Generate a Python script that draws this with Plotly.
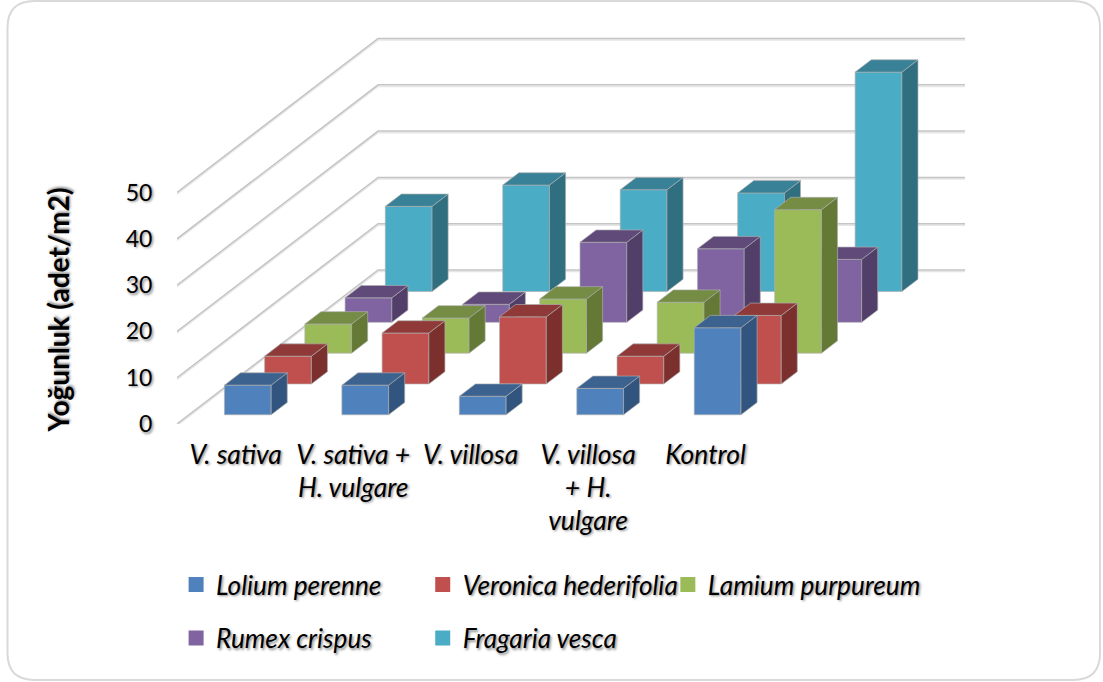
import plotly.graph_objects as go

categories = ["V. sativa", "V. sativa +\nH. vulgare", "V. villosa", "V. villosa\n+ H.\nvulgare", "Kontrol"]
series_names = ["Lolium perenne", "Veronica hederifolia", "Lamium purpureum", "Rumex crispus", "Fragaria vesca"]
lolium = [6.4, 6.4, 4.0, 5.7, 18.8]
veronica = [6.0, 11.0, 14.5, 6.0, 14.8]
lamium = [6.3, 7.6, 11.7, 11.0, 31.0]
rumex = [5.3, 3.9, 17.3, 15.9, 13.6]
fragaria = [18.4, 23.0, 22.0, 21.3, 47.4]
series_values = [lolium, veronica, lamium, rumex, fragaria]
y_ticks = [0, 10, 20, 30, 40, 50]

front_colors = ["#4F81BD", "#C0504D", "#9BBB59", "#8064A2", "#4BACC6"]
top_colors = ["#3C628F", "#8F3A38", "#748C43", "#604A79", "#388196"]
side_colors = ["#31557E", "#7C302E", "#647935", "#523F69", "#306F80"]

W, H = 1103, 682
L, R, T, Ymin_px = 177.4, 965, 20, 424
PX_X = 117.4           # pixels per category slot
PX_Y = 4.63            # pixels per value unit
N_SER = len(series_values)
SER_DX = 40.2 / PX_X   # oblique shift per series, x units
SER_DY = 30.8 / PX_Y   # oblique shift per series, value units
BAR_W = 0.398
BAR_D = 0.4            # bar depth as share of series slot
EDGE = "rgba(175,175,175,0.65)"
FONT = "Lato, Carlito, Calibri, sans-serif"
SHADOW = "1.5px 1.5px 2.5px rgba(0,0,0,0.45)"
FS_CAT = 26.5
FS_LEG = 26.2
FS_TICK = 23
FS_TITLE = 28


def fig_x(px):
    return (px - L) / (R - L)


def fig_y(px):
    return (Ymin_px - px) / (Ymin_px - T)


fig = go.Figure()

# floor-and-wall gridlines
for t in y_ticks:
    xs = [0, N_SER * SER_DX, N_SER * SER_DX + len(categories)]
    ys = [t, t + N_SER * SER_DY, t + N_SER * SER_DY]
    fig.add_trace(go.Scatter(x=xs, y=[v - 0.35 for v in ys], mode="lines",
                             line=dict(color="#E6E6E6", width=1.5),
                             showlegend=False, hoverinfo="skip"))
    fig.add_trace(go.Scatter(x=xs, y=ys, mode="lines",
                             line=dict(color="#C4C4C4", width=1.5),
                             showlegend=False, hoverinfo="skip"))


def add_faces(xs, ys, color):
    fig.add_trace(go.Scatter(x=xs, y=ys, mode="lines", fill="toself", fillcolor=color,
                             line=dict(color=EDGE, width=1), showlegend=False,
                             hoverinfo="skip"))


for j in range(N_SER - 1, -1, -1):
    fx, fy, sx, sy, tx, ty = [], [], [], [], [], []
    dx = BAR_D * SER_DX
    dy = BAR_D * SER_DY
    for i, v in enumerate(series_values[j]):
        x0 = i + (1 - BAR_W) / 2 + (j + 0.5 - BAR_D / 2) * SER_DX
        y0 = (j + 0.5 - BAR_D / 2) * SER_DY
        x1 = x0 + BAR_W
        y1 = y0 + v
        fx += [x0, x1, x1, x0, x0, None]
        fy += [y0, y0, y1, y1, y0, None]
        sx += [x1, x1 + dx, x1 + dx, x1, x1, None]
        sy += [y0, y0 + dy, y1 + dy, y1, y0, None]
        tx += [x0, x1, x1 + dx, x0 + dx, x0, None]
        ty += [y1, y1, y1 + dy, y1 + dy, y1, None]
    add_faces(fx, fy, front_colors[j])
    add_faces(sx, sy, side_colors[j])
    add_faces(tx, ty, top_colors[j])

# legend entries, one legend per entry so the grid matches
legend_pos = [(176.5, 585), (423, 585), (668, 585), (176.5, 638.5), (423, 638.5)]
legend_layout = {}
for j, name in enumerate(series_names):
    key = "legend" if j == 0 else f"legend{j + 1}"
    fig.add_trace(go.Scatter(x=[None], y=[None], mode="markers", name=name, legend=key,
                             marker=dict(symbol="square", size=15, color=front_colors[j])))
    lx, ly = legend_pos[j]
    legend_layout[key] = dict(x=fig_x(lx), y=fig_y(ly), xanchor="left", yanchor="middle",
                              bgcolor="rgba(0,0,0,0)", itemsizing="trace",
                              font=dict(family=FONT, size=FS_LEG, color="black", style="italic",
                                        shadow=SHADOW))


def tick_label(c):
    return "<br>".join(f'<span style="font-size:{FS_CAT}px">{p}</span>' for p in c.split("\n"))


x0c, x1c, y0c, y1c = 8, 1100, 1, 680
rad = 27
card = (f"M {fig_x(x0c + rad)},{fig_y(y0c)} L {fig_x(x1c - rad)},{fig_y(y0c)} "
        f"Q {fig_x(x1c)},{fig_y(y0c)} {fig_x(x1c)},{fig_y(y0c + rad)} "
        f"L {fig_x(x1c)},{fig_y(y1c - rad)} Q {fig_x(x1c)},{fig_y(y1c)} {fig_x(x1c - rad)},{fig_y(y1c)} "
        f"L {fig_x(x0c + rad)},{fig_y(y1c)} Q {fig_x(x0c)},{fig_y(y1c)} {fig_x(x0c)},{fig_y(y1c - rad)} "
        f"L {fig_x(x0c)},{fig_y(y0c + rad)} Q {fig_x(x0c)},{fig_y(y0c)} {fig_x(x0c + rad)},{fig_y(y0c)} Z")

fig.update_layout(
    width=W, height=H, paper_bgcolor="white", plot_bgcolor="rgba(0,0,0,0)",
    margin=dict(l=L, r=W - R, t=T, b=H - Ymin_px, autoexpand=False),
    font=dict(family=FONT, color="black"),
    xaxis=dict(range=[0, (R - L) / PX_X], tickmode="array",
               tickvals=[i + 0.5 for i in range(len(categories))],
               ticktext=[tick_label(c) for c in categories],
               showgrid=False, zeroline=False, showline=False,
               ticks="outside", ticklen=8, tickcolor="rgba(0,0,0,0)", tickangle=0,
               tickfont=dict(family=FONT, size=25.5, style="italic", color="black", shadow=SHADOW)),
    yaxis=dict(range=[0, (Ymin_px - T) / PX_Y], tickmode="array", tickvals=y_ticks,
               showgrid=False, zeroline=False, showline=False,
               ticks="outside", ticklen=19, tickcolor="rgba(0,0,0,0)",
               tickfont=dict(family=FONT, size=FS_TICK, color="black", shadow=SHADOW)),
    shapes=[dict(type="path", xref="paper", yref="paper", path=card, layer="below",
                 line=dict(color="#D9D9D9", width=2), fillcolor="white")],
    annotations=[dict(text="<b>Yoğunluk (adet/m2)</b>", xref="paper", yref="paper",
                      x=fig_x(58), y=fig_y(310), textangle=-90, showarrow=False,
                      xanchor="center", yanchor="middle",
                      font=dict(family=FONT, size=FS_TITLE, color="black", shadow=SHADOW))],
    **legend_layout,
)

fig.write_html("out.html", config={"displayModeBar": False},
               post_script="document.body.style.margin='0';")
